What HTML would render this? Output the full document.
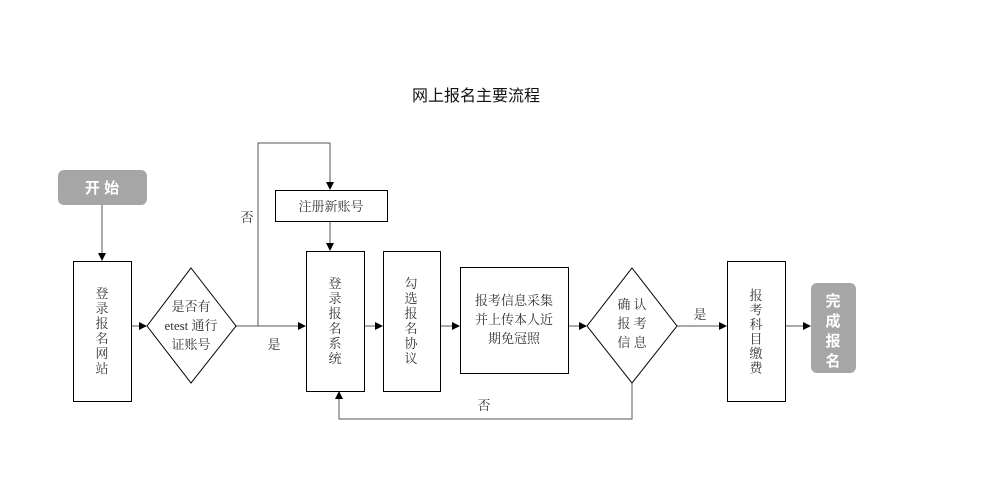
<!DOCTYPE html>
<html><head><meta charset="utf-8"><style>
html,body{margin:0;padding:0;background:#fff;width:999px;height:492px;overflow:hidden}
text{font-family:"Liberation Serif","Noto Serif CJK SC","Noto Sans CJK SC",serif;fill:#333;font-size:13px}
.b{font-family:"Liberation Sans","Noto Sans CJK SC",sans-serif;font-weight:bold;fill:#fff;font-size:15px}
</style></head><body>
<svg width="999" height="492" xmlns="http://www.w3.org/2000/svg">
<defs><marker id="a" markerWidth="8" markerHeight="8" refX="7" refY="4" orient="auto" markerUnits="userSpaceOnUse"><path d="M0,0L8,4L0,8z" fill="#000"/></marker></defs>
<text x="476" y="101" text-anchor="middle" style="font-family:'Liberation Sans','Noto Sans CJK SC',sans-serif;font-size:16px;fill:#111">网上报名主要流程</text>
<g stroke="#555" stroke-width="1" fill="none">
<line x1="102" y1="205" x2="102" y2="260" marker-end="url(#a)"/>
<line x1="131" y1="326" x2="146" y2="326" marker-end="url(#a)"/>
<line x1="236" y1="326" x2="305" y2="326" marker-end="url(#a)"/>
<polyline points="258,326 258,143 330,143 330,189" marker-end="url(#a)"/>
<line x1="330" y1="221" x2="330" y2="250" marker-end="url(#a)"/>
<line x1="364" y1="326" x2="382" y2="326" marker-end="url(#a)"/>
<line x1="440" y1="326" x2="459" y2="326" marker-end="url(#a)"/>
<line x1="568" y1="326" x2="586" y2="326" marker-end="url(#a)"/>
<line x1="677" y1="326" x2="726" y2="326" marker-end="url(#a)"/>
<line x1="785" y1="326" x2="810" y2="326" marker-end="url(#a)"/>
<polyline points="632,383 632,419 339,419 339,392" marker-end="url(#a)"/>
</g>
<rect x="58" y="170" width="89" height="35" rx="6" fill="#a6a6a6"/>
<text class="b" x="102" y="193" text-anchor="middle">开 始</text>
<rect x="811" y="283" width="45" height="90" rx="6" fill="#a6a6a6"/>
<g text-anchor="middle"><text class="b" x="833" y="306" text-anchor="middle">完</text><text class="b" x="833" y="326" text-anchor="middle">成</text><text class="b" x="833" y="346" text-anchor="middle">报</text><text class="b" x="833" y="366" text-anchor="middle">名</text></g>
<g stroke="#000" stroke-width="1" fill="#fff">
<rect x="73.5" y="261.5" width="58" height="140"/>
<polygon points="191,268 236,326 191,383 147,326"/>
<rect x="275.5" y="190.5" width="112" height="31"/>
<rect x="306.5" y="251.5" width="58" height="140"/>
<rect x="383.5" y="251.5" width="57" height="140"/>
<rect x="460.5" y="267.5" width="108" height="106"/>
<polygon points="632,268 677,326 632,383 587,326"/>
<rect x="727.5" y="261.5" width="58" height="140"/>
</g>
<g text-anchor="middle">
<text x="102" y="298">登</text><text x="102" y="313">录</text><text x="102" y="328">报</text><text x="102" y="343">名</text><text x="102" y="358">网</text><text x="102" y="373">站</text>
<text x="191" y="311">是否有</text><text x="191" y="330">etest 通行</text><text x="191" y="349">证账号</text>
<text x="331" y="211">注册新账号</text>
<text x="335" y="288">登</text><text x="335" y="303">录</text><text x="335" y="318">报</text><text x="335" y="333">名</text><text x="335" y="348">系</text><text x="335" y="363">统</text>
<text x="411" y="288">勾</text><text x="411" y="303">选</text><text x="411" y="318">报</text><text x="411" y="333">名</text><text x="411" y="348">协</text><text x="411" y="363">议</text>
<text x="514" y="305">报考信息采集</text><text x="514" y="324">并上传本人近</text><text x="514" y="343">期免冠照</text>
<text x="632" y="309">确 认</text><text x="632" y="328">报 考</text><text x="632" y="347">信 息</text>
<text x="756" y="300">报</text><text x="756" y="314.5">考</text><text x="756" y="329">科</text><text x="756" y="343.5">目</text><text x="756" y="358">缴</text><text x="756" y="372.5">费</text>
<text x="247" y="222">否</text><text x="274" y="349">是</text><text x="484" y="410">否</text><text x="700" y="319">是</text>
</g>
</svg>
</body></html>
